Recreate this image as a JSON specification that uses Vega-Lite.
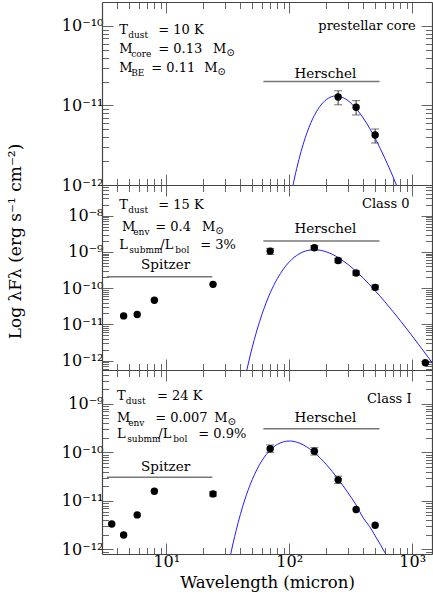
{
  "$schema": "https://vega.github.io/schema/vega-lite/v6.json",
  "padding": {"left": 6, "top": 1, "right": 1, "bottom": 1},
  "bounds": "flush",
  "spacing": 0,
  "config": {
    "view": {"stroke": null},
    "axis": {"grid": false, "domainColor": "#444", "domainWidth": 1.2, "tickColor": "#666", "tickWidth": 1,
      "labelFont": "DejaVu Serif", "titleFont": "DejaVu Serif", "labelFontSize": 16, "titleFontSize": 17,
      "titleFontWeight": "normal", "labelColor": "#000", "titleColor": "#000",
      "labelOverlap": false, "labelFlush": false, "labelBound": false},
    "text": {"font": "DejaVu Serif", "color": "#000"}
  },
  "datasets": {
    "pts": [
      {"p": 1, "wl": 250, "f": 1.28e-11, "lo": 1.02e-11, "hi": 1.53e-11},
      {"p": 1, "wl": 350, "f": 9.5e-12, "lo": 7.6e-12, "hi": 1.15e-11},
      {"p": 1, "wl": 500, "f": 4.25e-12, "lo": 3.37e-12, "hi": 5.06e-12},
      {"p": 2, "wl": 4.5, "f": 1.71e-11},
      {"p": 2, "wl": 5.8, "f": 1.87e-11},
      {"p": 2, "wl": 8.0, "f": 4.6e-11},
      {"p": 2, "wl": 24, "f": 1.27e-10},
      {"p": 2, "wl": 70, "f": 1.05e-9, "lo": 8.5e-10, "hi": 1.25e-9},
      {"p": 2, "wl": 160, "f": 1.3e-9, "lo": 1.12e-9, "hi": 1.5e-9},
      {"p": 2, "wl": 250, "f": 5.8e-10, "lo": 5.0e-10, "hi": 6.7e-10},
      {"p": 2, "wl": 350, "f": 2.6e-10, "lo": 2.25e-10, "hi": 3.0e-10},
      {"p": 2, "wl": 500, "f": 1.05e-10, "lo": 9.0e-11, "hi": 1.22e-10},
      {"p": 2, "wl": 1280, "f": 8.7e-13},
      {"p": 3, "wl": 3.6, "f": 3.33e-12},
      {"p": 3, "wl": 4.5, "f": 1.97e-12},
      {"p": 3, "wl": 5.8, "f": 5.13e-12},
      {"p": 3, "wl": 8.0, "f": 1.58e-11},
      {"p": 3, "wl": 24, "f": 1.39e-11, "lo": 1.25e-11, "hi": 1.55e-11},
      {"p": 3, "wl": 70, "f": 1.19e-10, "lo": 1.0e-10, "hi": 1.42e-10},
      {"p": 3, "wl": 160, "f": 1.05e-10, "lo": 8.8e-11, "hi": 1.25e-10},
      {"p": 3, "wl": 250, "f": 2.71e-11, "lo": 2.27e-11, "hi": 3.23e-11},
      {"p": 3, "wl": 350, "f": 6.6e-12},
      {"p": 3, "wl": 500, "f": 3.13e-12}
    ],
    "sed": [
      {"p": 1, "wl": 105, "f": 8.45e-13}, {"p": 1, "wl": 110, "f": 1.189e-12}, {"p": 1, "wl": 115, "f": 1.607e-12},
      {"p": 1, "wl": 120, "f": 2.099e-12}, {"p": 1, "wl": 130, "f": 3.266e-12}, {"p": 1, "wl": 140, "f": 4.613e-12},
      {"p": 1, "wl": 150, "f": 6.053e-12}, {"p": 1, "wl": 160, "f": 7.482e-12}, {"p": 1, "wl": 175, "f": 9.44e-12},
      {"p": 1, "wl": 200, "f": 1.183e-11}, {"p": 1, "wl": 220, "f": 1.288e-11}, {"p": 1, "wl": 240, "f": 1.318e-11},
      {"p": 1, "wl": 270, "f": 1.268e-11}, {"p": 1, "wl": 300, "f": 1.153e-11}, {"p": 1, "wl": 350, "f": 9.14e-12},
      {"p": 1, "wl": 400, "f": 6.95e-12}, {"p": 1, "wl": 450, "f": 5.18e-12}, {"p": 1, "wl": 500, "f": 3.855e-12},
      {"p": 1, "wl": 550, "f": 2.877e-12}, {"p": 1, "wl": 600, "f": 2.163e-12}, {"p": 1, "wl": 650, "f": 1.644e-12},
      {"p": 1, "wl": 700, "f": 1.259e-12}, {"p": 1, "wl": 750, "f": 9.75e-13}, {"p": 1, "wl": 780, "f": 8.41e-13},
      {"p": 2, "wl": 42, "f": 1.7e-13}, {"p": 2, "wl": 45, "f": 5.13e-13}, {"p": 2, "wl": 47, "f": 9.77e-13},
      {"p": 2, "wl": 50, "f": 2.3e-12}, {"p": 2, "wl": 52, "f": 3.8e-12}, {"p": 2, "wl": 55, "f": 7.43e-12},
      {"p": 2, "wl": 60, "f": 1.884e-11}, {"p": 2, "wl": 65, "f": 3.99e-11}, {"p": 2, "wl": 70, "f": 7.35e-11},
      {"p": 2, "wl": 80, "f": 1.828e-10}, {"p": 2, "wl": 90, "f": 3.41e-10}, {"p": 2, "wl": 100, "f": 5.27e-10},
      {"p": 2, "wl": 120, "f": 8.73e-10}, {"p": 2, "wl": 140, "f": 1.086e-9}, {"p": 2, "wl": 160, "f": 1.148e-9},
      {"p": 2, "wl": 200, "f": 1.005e-9}, {"p": 2, "wl": 250, "f": 6.97e-10}, {"p": 2, "wl": 300, "f": 4.51e-10},
      {"p": 2, "wl": 350, "f": 2.897e-10}, {"p": 2, "wl": 400, "f": 1.884e-10}, {"p": 2, "wl": 500, "f": 8.49e-11},
      {"p": 2, "wl": 600, "f": 4.19e-11}, {"p": 2, "wl": 700, "f": 2.234e-11}, {"p": 2, "wl": 800, "f": 1.271e-11},
      {"p": 2, "wl": 1000, "f": 4.79e-12}, {"p": 2, "wl": 1200, "f": 2.109e-12}, {"p": 2, "wl": 1500, "f": 7.59e-13},
      {"p": 3, "wl": 32, "f": 4.68e-13}, {"p": 3, "wl": 35, "f": 1.358e-12}, {"p": 3, "wl": 37, "f": 2.45e-12},
      {"p": 3, "wl": 40, "f": 5.18e-12}, {"p": 3, "wl": 42, "f": 7.91e-12}, {"p": 3, "wl": 45, "f": 1.358e-11},
      {"p": 3, "wl": 50, "f": 2.729e-11}, {"p": 3, "wl": 60, "f": 6.73e-11}, {"p": 3, "wl": 70, "f": 1.114e-10},
      {"p": 3, "wl": 80, "f": 1.459e-10}, {"p": 3, "wl": 100, "f": 1.714e-10}, {"p": 3, "wl": 120, "f": 1.567e-10},
      {"p": 3, "wl": 140, "f": 1.279e-10}, {"p": 3, "wl": 160, "f": 9.89e-11}, {"p": 3, "wl": 200, "f": 5.64e-11},
      {"p": 3, "wl": 250, "f": 2.81e-11}, {"p": 3, "wl": 300, "f": 1.476e-11}, {"p": 3, "wl": 350, "f": 8.22e-12},
      {"p": 3, "wl": 400, "f": 4.43e-12}, {"p": 3, "wl": 450, "f": 2.965e-12}, {"p": 3, "wl": 500, "f": 1.897e-12},
      {"p": 3, "wl": 550, "f": 1.259e-12}, {"p": 3, "wl": 600, "f": 8.57e-13}, {"p": 3, "wl": 650, "f": 6.03e-13}
    ],
    "inst": [
      {"p": 1, "name": "Herschel", "x1": 61.6, "x2": 543, "f": 2.0e-11, "xc": 197, "fl": 2.52e-11},
      {"p": 2, "name": "Herschel", "x1": 61.6, "x2": 543, "f": 1.99e-9, "xc": 197, "fl": 4.24e-9},
      {"p": 2, "name": "Spitzer", "x1": 3.29, "x2": 23.7, "f": 2.07e-10, "xc": 9.87, "fl": 4.34e-10},
      {"p": 3, "name": "Herschel", "x1": 61.6, "x2": 543, "f": 3.08e-10, "xc": 197, "fl": 5.13e-10},
      {"p": 3, "name": "Spitzer", "x1": 3.29, "x2": 23.7, "f": 3.08e-11, "xc": 9.87, "fl": 4.97e-11}
    ],
    "txt": [
      {"p": 1, "wl": 4.142, "f": 8.97e-11, "t": "T", "k": "main"},
      {"p": 1, "wl": 4.905, "f": 8.97e-11, "t": "dust", "k": "sub"},
      {"p": 1, "wl": 8.609, "f": 8.97e-11, "t": "= 10 K", "k": "main"},
      {"p": 1, "wl": 4.142, "f": 5.17e-11, "t": "M", "k": "main"},
      {"p": 1, "wl": 5.188, "f": 5.17e-11, "t": "core", "k": "sub"},
      {"p": 1, "wl": 8.609, "f": 5.17e-11, "t": "= 0.13", "k": "main"},
      {"p": 1, "wl": 24.01, "f": 5.17e-11, "t": "M", "k": "main"},
      {"p": 1, "wl": 30.8, "f": 5.17e-11, "t": "⊙", "k": "sun"},
      {"p": 1, "wl": 4.142, "f": 2.98e-11, "t": "M", "k": "main"},
      {"p": 1, "wl": 5.188, "f": 2.98e-11, "t": "BE", "k": "sub"},
      {"p": 1, "wl": 7.548, "f": 2.98e-11, "t": "= 0.11", "k": "main"},
      {"p": 1, "wl": 20.4, "f": 2.98e-11, "t": "M", "k": "main"},
      {"p": 1, "wl": 26.0, "f": 2.98e-11, "t": "⊙", "k": "sun"},
      {"p": 1, "wl": 1066, "f": 1.0e-10, "t": "prestellar core", "k": "right"},
      {"p": 2, "wl": 4.142, "f": 2.0e-8, "t": "T", "k": "main"},
      {"p": 2, "wl": 4.905, "f": 2.0e-8, "t": "dust", "k": "sub"},
      {"p": 2, "wl": 8.609, "f": 2.0e-8, "t": "= 15 K", "k": "main"},
      {"p": 2, "wl": 4.358, "f": 4.91e-9, "t": "M", "k": "main"},
      {"p": 2, "wl": 5.39, "f": 4.91e-9, "t": "env", "k": "sub"},
      {"p": 2, "wl": 8.136, "f": 4.91e-9, "t": "= 0.4", "k": "main"},
      {"p": 2, "wl": 19.53, "f": 4.91e-9, "t": "M", "k": "main"},
      {"p": 2, "wl": 25.0, "f": 4.91e-9, "t": "⊙", "k": "sun"},
      {"p": 2, "wl": 4.142, "f": 1.51e-9, "t": "L", "k": "main"},
      {"p": 2, "wl": 4.997, "f": 1.51e-9, "t": "submm", "k": "sub"},
      {"p": 2, "wl": 8.935, "f": 1.51e-9, "t": "/L", "k": "main"},
      {"p": 2, "wl": 11.84, "f": 1.51e-9, "t": "bol", "k": "sub"},
      {"p": 2, "wl": 18.92, "f": 1.51e-9, "t": "= 3%", "k": "main"},
      {"p": 2, "wl": 952.5, "f": 2.13e-8, "t": "Class 0", "k": "right"},
      {"p": 3, "wl": 3.968, "f": 1.47e-9, "t": "T", "k": "main"},
      {"p": 3, "wl": 4.68, "f": 1.47e-9, "t": "dust", "k": "sub"},
      {"p": 3, "wl": 8.401, "f": 1.47e-9, "t": "= 24 K", "k": "main"},
      {"p": 3, "wl": 3.968, "f": 5.2e-10, "t": "M", "k": "main"},
      {"p": 3, "wl": 4.905, "f": 5.2e-10, "t": "env", "k": "sub"},
      {"p": 3, "wl": 8.136, "f": 5.2e-10, "t": "= 0.007", "k": "main"},
      {"p": 3, "wl": 24.6, "f": 5.2e-10, "t": "M", "k": "main"},
      {"p": 3, "wl": 31.5, "f": 5.2e-10, "t": "⊙", "k": "sun"},
      {"p": 3, "wl": 3.968, "f": 2.39e-10, "t": "L", "k": "main"},
      {"p": 3, "wl": 4.814, "f": 2.39e-10, "t": "submm", "k": "sub"},
      {"p": 3, "wl": 8.609, "f": 2.39e-10, "t": "/L", "k": "main"},
      {"p": 3, "wl": 11.4, "f": 2.39e-10, "t": "bol", "k": "sub"},
      {"p": 3, "wl": 18.22, "f": 2.39e-10, "t": "= 0.9%", "k": "main"},
      {"p": 3, "wl": 988.8, "f": 1.27e-9, "t": "Class I", "k": "right"}
    ]
  },
  "vconcat": [
    {
      "width": 330, "height": 183,
      "layer": [
        {"data": {"name": "inst"}, "transform": [{"filter": "datum.p == 1"}],
         "mark": {"type": "rule", "color": "#777", "strokeWidth": 1.5},
         "encoding": {
           "x": {"field": "x1", "type": "quantitative", "scale": {"type": "log", "domain": [3, 1450], "nice": false},
             "axis": {"orient": "bottom", "values": [4,5,6,7,8,9,10,20,30,40,50,60,70,80,90,100,200,300,400,500,600,700,800,900,1000],
               "labels": false, "title": null,
               "tickSize": {"condition": {"test": "datum.value == 10 || datum.value == 100 || datum.value == 1000", "value": -11}, "value": -6.5}}},
           "x2": {"field": "x2"},
           "y": {"field": "f", "type": "quantitative", "scale": {"type": "log", "domain": [1e-12, 2e-10], "nice": false},
             "axis": {"orient": "left", "title": null, "labelPadding": 10,
               "values": [1e-12,2e-12,3e-12,4e-12,5e-12,6e-12,7e-12,8e-12,9e-12,1e-11,2e-11,3e-11,4e-11,5e-11,6e-11,7e-11,8e-11,9e-11,1e-10],
               "labelExpr": "datum.value == 1e-10 ? '10⁻¹⁰' : datum.value == 1e-11 ? '10⁻¹¹' : datum.value == 1e-12 ? '10⁻¹²' : ''",
               "tickSize": {"condition": {"test": "abs(log(datum.value)/LN10 - round(log(datum.value)/LN10)) < 0.01", "value": -11}, "value": -6.5}}}
         }},
        {"data": {"name": "sed"}, "transform": [{"filter": "datum.p == 1"}],
         "mark": {"type": "line", "color": "#1f1fff", "strokeWidth": 1, "clip": true, "interpolate": "monotone"},
         "encoding": {
           "x": {"field": "wl", "type": "quantitative", "scale": {"type": "log", "nice": false},
             "axis": {"orient": "top", "values": [4,5,6,7,8,9,10,20,30,40,50,60,70,80,90,100,200,300,400,500,600,700,800,900,1000],
               "labels": false, "title": null,
               "tickSize": {"condition": {"test": "datum.value == 10 || datum.value == 100 || datum.value == 1000", "value": -11}, "value": -6.5}}},
           "y": {"field": "f", "type": "quantitative", "scale": {"type": "log", "nice": false},
             "axis": {"orient": "right", "title": null, "labels": false,
               "values": [1e-12,2e-12,3e-12,4e-12,5e-12,6e-12,7e-12,8e-12,9e-12,1e-11,2e-11,3e-11,4e-11,5e-11,6e-11,7e-11,8e-11,9e-11,1e-10],
               "tickSize": {"condition": {"test": "abs(log(datum.value)/LN10 - round(log(datum.value)/LN10)) < 0.01", "value": -11}, "value": -6.5}}}
         }},
        {"data": {"name": "inst"}, "transform": [{"filter": "datum.p == 1"}],
         "mark": {"type": "text", "align": "center", "baseline": "middle", "fontSize": 13.5},
         "encoding": {"x": {"field": "xc", "type": "quantitative", "axis": null}, "y": {"field": "fl", "type": "quantitative", "axis": null}, "text": {"field": "name"}}},
        {"data": {"name": "pts"}, "transform": [{"filter": "datum.p == 1 && isValid(datum.lo)"}],
         "mark": {"type": "rule", "color": "#333", "strokeWidth": 1},
         "encoding": {"x": {"field": "wl", "type": "quantitative", "axis": null}, "y": {"field": "lo", "type": "quantitative", "axis": null}, "y2": {"field": "hi"}}},
        {"data": {"name": "pts"}, "transform": [{"filter": "datum.p == 1 && isValid(datum.lo)"}],
         "mark": {"type": "tick", "orient": "horizontal", "size": 8, "thickness": 1, "color": "#333"},
         "encoding": {"x": {"field": "wl", "type": "quantitative", "axis": null}, "y": {"field": "lo", "type": "quantitative", "axis": null}}},
        {"data": {"name": "pts"}, "transform": [{"filter": "datum.p == 1 && isValid(datum.lo)"}],
         "mark": {"type": "tick", "orient": "horizontal", "size": 8, "thickness": 1, "color": "#333"},
         "encoding": {"x": {"field": "wl", "type": "quantitative", "axis": null}, "y": {"field": "hi", "type": "quantitative", "axis": null}}},
        {"data": {"name": "pts"}, "transform": [{"filter": "datum.p == 1"}],
         "mark": {"type": "point", "shape": "circle", "filled": true, "color": "#000", "opacity": 1, "size": 55},
         "encoding": {"x": {"field": "wl", "type": "quantitative", "axis": null}, "y": {"field": "f", "type": "quantitative", "axis": null}}},
        {"data": {"name": "txt"}, "transform": [{"filter": "datum.p == 1 && datum.k == 'main'"}],
         "mark": {"type": "text", "align": "left", "baseline": "middle", "fontSize": 13},
         "encoding": {"x": {"field": "wl", "type": "quantitative", "axis": null}, "y": {"field": "f", "type": "quantitative", "axis": null}, "text": {"field": "t"}}},
        {"data": {"name": "txt"}, "transform": [{"filter": "datum.p == 1 && datum.k == 'sub'"}],
         "mark": {"type": "text", "align": "left", "baseline": "middle", "fontSize": 9, "dy": 5},
         "encoding": {"x": {"field": "wl", "type": "quantitative", "axis": null}, "y": {"field": "f", "type": "quantitative", "axis": null}, "text": {"field": "t"}}},
        {"data": {"name": "txt"}, "transform": [{"filter": "datum.p == 1 && datum.k == 'sun'"}],
         "mark": {"type": "text", "align": "left", "baseline": "middle", "fontSize": 10.5, "dy": 4},
         "encoding": {"x": {"field": "wl", "type": "quantitative", "axis": null}, "y": {"field": "f", "type": "quantitative", "axis": null}, "text": {"field": "t"}}},
        {"data": {"name": "txt"}, "transform": [{"filter": "datum.p == 1 && datum.k == 'right'"}],
         "mark": {"type": "text", "align": "right", "baseline": "middle", "fontSize": 13},
         "encoding": {"x": {"field": "wl", "type": "quantitative", "axis": null}, "y": {"field": "f", "type": "quantitative", "axis": null}, "text": {"field": "t"}}}
      ],
      "resolve": {"axis": {"x": "independent", "y": "independent"}}
    },
    {
      "width": 330, "height": 185,
      "layer": [
        {"data": {"name": "inst"}, "transform": [{"filter": "datum.p == 2"}],
         "mark": {"type": "rule", "color": "#777", "strokeWidth": 1.5},
         "encoding": {
           "x": {"field": "x1", "type": "quantitative", "scale": {"type": "log", "domain": [3, 1450], "nice": false},
             "axis": {"orient": "bottom", "values": [4,5,6,7,8,9,10,20,30,40,50,60,70,80,90,100,200,300,400,500,600,700,800,900,1000],
               "labels": false, "title": null,
               "tickSize": {"condition": {"test": "datum.value == 10 || datum.value == 100 || datum.value == 1000", "value": -11}, "value": -6.5}}},
           "x2": {"field": "x2"},
           "y": {"field": "f", "type": "quantitative", "scale": {"type": "log", "domain": [5.5e-13, 7e-8], "nice": false},
             "axis": {"orient": "left", "labelPadding": 10,
               "title": "Log λFλ (erg s⁻¹ cm⁻²)", "titleX": -87, "titleY": 56, "titleAngle": 270, "titleBaseline": "middle", "titleAlign": "center",
               "values": [6e-13,7e-13,8e-13,9e-13,1e-12,2e-12,3e-12,4e-12,5e-12,6e-12,7e-12,8e-12,9e-12,1e-11,2e-11,3e-11,4e-11,5e-11,6e-11,7e-11,8e-11,9e-11,1e-10,2e-10,3e-10,4e-10,5e-10,6e-10,7e-10,8e-10,9e-10,1e-9,2e-9,3e-9,4e-9,5e-9,6e-9,7e-9,8e-9,9e-9,1e-8,2e-8,3e-8,4e-8,5e-8,6e-8],
               "labelExpr": "datum.value == 1e-8 ? '10⁻⁸' : datum.value == 1e-9 ? '10⁻⁹' : datum.value == 1e-10 ? '10⁻¹⁰' : datum.value == 1e-11 ? '10⁻¹¹' : datum.value == 1e-12 ? '10⁻¹²' : ''",
               "tickSize": {"condition": {"test": "abs(log(datum.value)/LN10 - round(log(datum.value)/LN10)) < 0.01", "value": -11}, "value": -6.5}}}
         }},
        {"data": {"name": "sed"}, "transform": [{"filter": "datum.p == 2"}],
         "mark": {"type": "line", "color": "#1f1fff", "strokeWidth": 1, "clip": true, "interpolate": "monotone"},
         "encoding": {
           "x": {"field": "wl", "type": "quantitative", "scale": {"type": "log", "nice": false},
             "axis": {"orient": "top", "values": [4,5,6,7,8,9,10,20,30,40,50,60,70,80,90,100,200,300,400,500,600,700,800,900,1000],
               "labels": false, "title": null,
               "tickSize": {"condition": {"test": "datum.value == 10 || datum.value == 100 || datum.value == 1000", "value": -11}, "value": -6.5}}},
           "y": {"field": "f", "type": "quantitative", "scale": {"type": "log", "nice": false},
             "axis": {"orient": "right", "title": null, "labels": false,
               "values": [6e-13,7e-13,8e-13,9e-13,1e-12,2e-12,3e-12,4e-12,5e-12,6e-12,7e-12,8e-12,9e-12,1e-11,2e-11,3e-11,4e-11,5e-11,6e-11,7e-11,8e-11,9e-11,1e-10,2e-10,3e-10,4e-10,5e-10,6e-10,7e-10,8e-10,9e-10,1e-9,2e-9,3e-9,4e-9,5e-9,6e-9,7e-9,8e-9,9e-9,1e-8,2e-8,3e-8,4e-8,5e-8,6e-8],
               "tickSize": {"condition": {"test": "abs(log(datum.value)/LN10 - round(log(datum.value)/LN10)) < 0.01", "value": -11}, "value": -6.5}}}
         }},
        {"data": {"name": "inst"}, "transform": [{"filter": "datum.p == 2"}],
         "mark": {"type": "text", "align": "center", "baseline": "middle", "fontSize": 13.5},
         "encoding": {"x": {"field": "xc", "type": "quantitative", "axis": null}, "y": {"field": "fl", "type": "quantitative", "axis": null}, "text": {"field": "name"}}},
        {"data": {"name": "pts"}, "transform": [{"filter": "datum.p == 2 && isValid(datum.lo)"}],
         "mark": {"type": "rule", "color": "#333", "strokeWidth": 1},
         "encoding": {"x": {"field": "wl", "type": "quantitative", "axis": null}, "y": {"field": "lo", "type": "quantitative", "axis": null}, "y2": {"field": "hi"}}},
        {"data": {"name": "pts"}, "transform": [{"filter": "datum.p == 2 && isValid(datum.lo)"}],
         "mark": {"type": "tick", "orient": "horizontal", "size": 8, "thickness": 1, "color": "#333"},
         "encoding": {"x": {"field": "wl", "type": "quantitative", "axis": null}, "y": {"field": "lo", "type": "quantitative", "axis": null}}},
        {"data": {"name": "pts"}, "transform": [{"filter": "datum.p == 2 && isValid(datum.lo)"}],
         "mark": {"type": "tick", "orient": "horizontal", "size": 8, "thickness": 1, "color": "#333"},
         "encoding": {"x": {"field": "wl", "type": "quantitative", "axis": null}, "y": {"field": "hi", "type": "quantitative", "axis": null}}},
        {"data": {"name": "pts"}, "transform": [{"filter": "datum.p == 2"}],
         "mark": {"type": "point", "shape": "circle", "filled": true, "color": "#000", "opacity": 1, "size": 55},
         "encoding": {"x": {"field": "wl", "type": "quantitative", "axis": null}, "y": {"field": "f", "type": "quantitative", "axis": null}}},
        {"data": {"name": "txt"}, "transform": [{"filter": "datum.p == 2 && datum.k == 'main'"}],
         "mark": {"type": "text", "align": "left", "baseline": "middle", "fontSize": 13},
         "encoding": {"x": {"field": "wl", "type": "quantitative", "axis": null}, "y": {"field": "f", "type": "quantitative", "axis": null}, "text": {"field": "t"}}},
        {"data": {"name": "txt"}, "transform": [{"filter": "datum.p == 2 && datum.k == 'sub'"}],
         "mark": {"type": "text", "align": "left", "baseline": "middle", "fontSize": 9, "dy": 5},
         "encoding": {"x": {"field": "wl", "type": "quantitative", "axis": null}, "y": {"field": "f", "type": "quantitative", "axis": null}, "text": {"field": "t"}}},
        {"data": {"name": "txt"}, "transform": [{"filter": "datum.p == 2 && datum.k == 'sun'"}],
         "mark": {"type": "text", "align": "left", "baseline": "middle", "fontSize": 10.5, "dy": 4},
         "encoding": {"x": {"field": "wl", "type": "quantitative", "axis": null}, "y": {"field": "f", "type": "quantitative", "axis": null}, "text": {"field": "t"}}},
        {"data": {"name": "txt"}, "transform": [{"filter": "datum.p == 2 && datum.k == 'right'"}],
         "mark": {"type": "text", "align": "right", "baseline": "middle", "fontSize": 13},
         "encoding": {"x": {"field": "wl", "type": "quantitative", "axis": null}, "y": {"field": "f", "type": "quantitative", "axis": null}, "text": {"field": "t"}}}
      ],
      "resolve": {"axis": {"x": "independent", "y": "independent"}}
    },
    {
      "width": 330, "height": 184,
      "layer": [
        {"data": {"name": "inst"}, "transform": [{"filter": "datum.p == 3"}],
         "mark": {"type": "rule", "color": "#777", "strokeWidth": 1.5},
         "encoding": {
           "x": {"field": "x1", "type": "quantitative", "scale": {"type": "log", "domain": [3, 1450], "nice": false},
             "axis": {"orient": "bottom", "values": [4,5,6,7,8,9,10,20,30,40,50,60,70,80,90,100,200,300,400,500,600,700,800,900,1000],
               "labels": true, "title": "Wavelength (micron)", "labelPadding": 10, "titlePadding": 1, "titleFontSize": 16.5,
               "labelExpr": "datum.value == 10 ? '10¹' : datum.value == 100 ? '10²' : datum.value == 1000 ? '10³' : ''",
               "tickSize": {"condition": {"test": "datum.value == 10 || datum.value == 100 || datum.value == 1000", "value": -11}, "value": -6.5}}},
           "x2": {"field": "x2"},
           "y": {"field": "f", "type": "quantitative", "scale": {"type": "log", "domain": [8e-13, 5e-9], "nice": false},
             "axis": {"orient": "left", "title": null, "labelPadding": 10,
               "values": [9e-13,1e-12,2e-12,3e-12,4e-12,5e-12,6e-12,7e-12,8e-12,9e-12,1e-11,2e-11,3e-11,4e-11,5e-11,6e-11,7e-11,8e-11,9e-11,1e-10,2e-10,3e-10,4e-10,5e-10,6e-10,7e-10,8e-10,9e-10,1e-9,2e-9,3e-9,4e-9],
               "labelExpr": "datum.value == 1e-9 ? '10⁻⁹' : datum.value == 1e-10 ? '10⁻¹⁰' : datum.value == 1e-11 ? '10⁻¹¹' : datum.value == 1e-12 ? '10⁻¹²' : ''",
               "tickSize": {"condition": {"test": "abs(log(datum.value)/LN10 - round(log(datum.value)/LN10)) < 0.01", "value": -11}, "value": -6.5}}}
         }},
        {"data": {"name": "sed"}, "transform": [{"filter": "datum.p == 3"}],
         "mark": {"type": "line", "color": "#1f1fff", "strokeWidth": 1, "clip": true, "interpolate": "monotone"},
         "encoding": {
           "x": {"field": "wl", "type": "quantitative", "scale": {"type": "log", "nice": false},
             "axis": {"orient": "top", "values": [4,5,6,7,8,9,10,20,30,40,50,60,70,80,90,100,200,300,400,500,600,700,800,900,1000],
               "labels": false, "title": null,
               "tickSize": {"condition": {"test": "datum.value == 10 || datum.value == 100 || datum.value == 1000", "value": -11}, "value": -6.5}}},
           "y": {"field": "f", "type": "quantitative", "scale": {"type": "log", "nice": false},
             "axis": {"orient": "right", "title": null, "labels": false,
               "values": [9e-13,1e-12,2e-12,3e-12,4e-12,5e-12,6e-12,7e-12,8e-12,9e-12,1e-11,2e-11,3e-11,4e-11,5e-11,6e-11,7e-11,8e-11,9e-11,1e-10,2e-10,3e-10,4e-10,5e-10,6e-10,7e-10,8e-10,9e-10,1e-9,2e-9,3e-9,4e-9],
               "tickSize": {"condition": {"test": "abs(log(datum.value)/LN10 - round(log(datum.value)/LN10)) < 0.01", "value": -11}, "value": -6.5}}}
         }},
        {"data": {"name": "inst"}, "transform": [{"filter": "datum.p == 3"}],
         "mark": {"type": "text", "align": "center", "baseline": "middle", "fontSize": 13.5},
         "encoding": {"x": {"field": "xc", "type": "quantitative", "axis": null}, "y": {"field": "fl", "type": "quantitative", "axis": null}, "text": {"field": "name"}}},
        {"data": {"name": "pts"}, "transform": [{"filter": "datum.p == 3 && isValid(datum.lo)"}],
         "mark": {"type": "rule", "color": "#333", "strokeWidth": 1},
         "encoding": {"x": {"field": "wl", "type": "quantitative", "axis": null}, "y": {"field": "lo", "type": "quantitative", "axis": null}, "y2": {"field": "hi"}}},
        {"data": {"name": "pts"}, "transform": [{"filter": "datum.p == 3 && isValid(datum.lo)"}],
         "mark": {"type": "tick", "orient": "horizontal", "size": 8, "thickness": 1, "color": "#333"},
         "encoding": {"x": {"field": "wl", "type": "quantitative", "axis": null}, "y": {"field": "lo", "type": "quantitative", "axis": null}}},
        {"data": {"name": "pts"}, "transform": [{"filter": "datum.p == 3 && isValid(datum.lo)"}],
         "mark": {"type": "tick", "orient": "horizontal", "size": 8, "thickness": 1, "color": "#333"},
         "encoding": {"x": {"field": "wl", "type": "quantitative", "axis": null}, "y": {"field": "hi", "type": "quantitative", "axis": null}}},
        {"data": {"name": "pts"}, "transform": [{"filter": "datum.p == 3"}],
         "mark": {"type": "point", "shape": "circle", "filled": true, "color": "#000", "opacity": 1, "size": 55},
         "encoding": {"x": {"field": "wl", "type": "quantitative", "axis": null}, "y": {"field": "f", "type": "quantitative", "axis": null}}},
        {"data": {"name": "txt"}, "transform": [{"filter": "datum.p == 3 && datum.k == 'main'"}],
         "mark": {"type": "text", "align": "left", "baseline": "middle", "fontSize": 13},
         "encoding": {"x": {"field": "wl", "type": "quantitative", "axis": null}, "y": {"field": "f", "type": "quantitative", "axis": null}, "text": {"field": "t"}}},
        {"data": {"name": "txt"}, "transform": [{"filter": "datum.p == 3 && datum.k == 'sub'"}],
         "mark": {"type": "text", "align": "left", "baseline": "middle", "fontSize": 9, "dy": 5},
         "encoding": {"x": {"field": "wl", "type": "quantitative", "axis": null}, "y": {"field": "f", "type": "quantitative", "axis": null}, "text": {"field": "t"}}},
        {"data": {"name": "txt"}, "transform": [{"filter": "datum.p == 3 && datum.k == 'sun'"}],
         "mark": {"type": "text", "align": "left", "baseline": "middle", "fontSize": 10.5, "dy": 4},
         "encoding": {"x": {"field": "wl", "type": "quantitative", "axis": null}, "y": {"field": "f", "type": "quantitative", "axis": null}, "text": {"field": "t"}}},
        {"data": {"name": "txt"}, "transform": [{"filter": "datum.p == 3 && datum.k == 'right'"}],
         "mark": {"type": "text", "align": "right", "baseline": "middle", "fontSize": 13},
         "encoding": {"x": {"field": "wl", "type": "quantitative", "axis": null}, "y": {"field": "f", "type": "quantitative", "axis": null}, "text": {"field": "t"}}}
      ],
      "resolve": {"axis": {"x": "independent", "y": "independent"}}
    }
  ]
}
